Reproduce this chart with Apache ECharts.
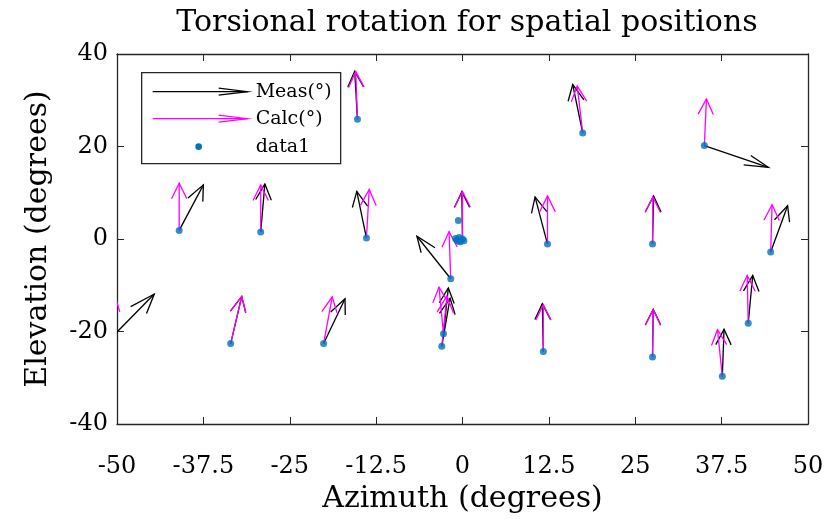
<!DOCTYPE html>
<html>
<head>
<meta charset="utf-8">
<script src="https://cdn.jsdelivr.net/npm/echarts@6/dist/echarts.min.js"></script>
<style>
  html, body { margin: 0; padding: 0; background: #fff; }
  #chart { width: 828px; height: 519px; }
</style>
</head>
<body>
<div id="chart"></div>
<script>
// arrow base positions (azimuth, elevation)
var posX = [-15.2, 17.4, 35.0, -41.0, -29.2, -13.9, -1.7, 0.0, 12.3, 27.5, 44.6,
            -51.5, -33.55, -20.1, -2.75, -3.0, 11.7, 27.5, 37.6, 41.35];
var posY = [25.9, 22.9, 20.2, 1.86, 1.5, 0.2, -8.6, 0.0, -1.1, -1.1, -2.8,
            -22.4, -22.6, -22.6, -20.5, -23.2, -24.3, -25.5, -29.7, -18.2];
// measured torsion vectors
var measU = [-0.4, -1.45, 9.26, 3.5, 0.6, -1.4, -4.9, -0.1, -1.8, 0.15, 2.45,
             6.9, 1.6, 3.1, 0.7, 1.2, -0.15, 0.1, 0.25, 0.65];
var measV = [10.4, 10.5, -4.7, 9.85, 10.4, 10.1, 9.2, 10.2, 10.2, 10.4, 10.0,
             10.5, 10.2, 9.7, 9.9, 10.4, 10.3, 10.3, 10.2, 10.3];
// calculated torsion vectors
var calcU = [-0.25, -0.8, 0.3, 0.0, 0.0, 0.4, -0.25, 0.0, 0.0, 0.05, 0.2,
             1.2, 1.6, 1.25, -0.65, 0.75, 0.0, 0.1, -0.7, -0.15];
var calcV = [10.3, 10.2, 10.1, 10.2, 10.2, 10.5, 10.2, 10.3, 10.4, 10.2, 10.2,
             10.1, 10.2, 10.1, 10.1, 10.9, 10.1, 10.2, 10.1, 10.3];
// extra data1 points around the origin
var extraX = [-0.8, -0.5, -0.3, -1.0, 0.2, -0.6, -0.6];
var extraY = [-0.2, 0.3, -0.6, 0.1, -0.4, -0.5, 4.0];

var xTicks = ['-50', '-37.5', '-25', '-12.5', '0', '12.5', '25', '37.5', '50'];

var serif = '"DejaVu Serif", "Liberation Serif", serif';
var axisColor = '#262626';

function vecData(us, vs) {
  return posX.map(function (x, i) { return [x, posY[i], us[i], vs[i]]; });
}

// MATLAB quiver style arrow
function arrowRender(color) {
  var alpha = 0.33, beta = 0.33;
  return function (params, api) {
    var x = api.value(0), y = api.value(1), u = api.value(2), v = api.value(3);
    var tx = x + u, ty = y + v;
    var b1 = api.coord([tx - alpha * (u + beta * v), ty - alpha * (v - beta * u)]);
    var b2 = api.coord([tx - alpha * (u - beta * v), ty - alpha * (v + beta * u)]);
    var p0 = api.coord([x, y]);
    var p1 = api.coord([tx, ty]);
    var st = { stroke: color, lineWidth: 1.3, fill: null };
    return {
      type: 'group',
      children: [
        { type: 'polyline', shape: { points: [p0, p1] }, style: st },
        { type: 'polyline', shape: { points: [b1, p1, b2] }, style: st }
      ]
    };
  };
}

var dots = posX.map(function (x, i) { return [x, posY[i]]; })
  .concat(extraX.map(function (x, i) { return [x, extraY[i]]; }));

var chart = echarts.init(document.getElementById('chart'));

function frameAxis(pos, min, max, step) {
  return {
    type: 'value', position: pos, min: min, max: max, interval: step,
    axisLine: { show: true, onZero: false, lineStyle: { color: axisColor, width: 1.3 } },
    axisTick: { show: true, inside: true, length: 7, lineStyle: { color: axisColor } },
    axisLabel: { show: false }, splitLine: { show: false }
  };
}

var lgX = 141, lgY = 72;
var option = {
  animation: false,
  backgroundColor: '#fff',
  title: {
    text: 'Torsional rotation for spatial positions',
    left: 462, top: 3, textAlign: 'center',
    textStyle: { fontFamily: serif, fontWeight: 'normal', fontSize: 30, color: '#000' }
  },
  grid: { left: 117, right: 20, top: 54, bottom: 95 },
  xAxis: [{
    type: 'value', min: -50, max: 50, interval: 12.5,
    name: 'Azimuth (degrees)', nameLocation: 'middle', nameGap: 56,
    nameTextStyle: { fontFamily: serif, fontSize: 30, color: '#000' },
    axisLine: { show: true, onZero: false, lineStyle: { color: axisColor, width: 1.3 } },
    axisTick: { show: true, inside: true, length: 7, lineStyle: { color: axisColor } },
    axisLabel: {
      margin: 43, fontFamily: serif, fontSize: 24, color: '#000', verticalAlign: 'middle',
      formatter: function (val) { return xTicks[Math.round((val + 50) / 12.5)]; }
    },
    splitLine: { show: false }
  }, frameAxis('top', -50, 50, 12.5)],
  yAxis: [{
    type: 'value', min: -40, max: 40, interval: 20,
    name: 'Elevation (degrees)', nameLocation: 'middle', nameGap: 64,
    nameTextStyle: { fontFamily: serif, fontSize: 30, color: '#000' },
    axisLine: { show: true, onZero: false, lineStyle: { color: axisColor, width: 1.3 } },
    axisTick: { show: true, inside: true, length: 7, lineStyle: { color: axisColor } },
    axisLabel: { margin: 9, fontFamily: serif, fontSize: 24, color: '#000' },
    splitLine: { show: false }
  }, frameAxis('right', -40, 40, 20)],
  series: [{
    name: 'Meas(°)', type: 'custom', clip: true,
    renderItem: arrowRender('#000000'),
    encode: { x: 0, y: 1 },
    data: vecData(measU, measV)
  }, {
    name: 'Calc(°)', type: 'custom', clip: true,
    renderItem: arrowRender('#ff00ff'),
    encode: { x: 0, y: 1 },
    data: vecData(calcU, calcV)
  }, {
    name: 'data1', type: 'scatter', symbol: 'circle', symbolSize: 7,
    itemStyle: { color: '#0072bd' },
    data: dots
  }],
  graphic: [{
    type: 'group', left: lgX, top: lgY, z: 100,
    children: [
      { type: 'rect', shape: { x: 0, y: 0, width: 199, height: 91 },
        style: { fill: '#fff', stroke: axisColor, lineWidth: 1.3 } },
      { type: 'polyline', shape: { points: [[11, 19], [106, 19]] }, style: { stroke: '#000', lineWidth: 1.2 } },
      { type: 'polyline', shape: { points: [[77, 15.5], [106, 19], [77, 22.5]] }, style: { stroke: '#000', lineWidth: 1.2, fill: null } },
      { type: 'text', x: 114, y: 19, style: { text: 'Meas(°)', font: '19px ' + serif, fill: '#000', verticalAlign: 'middle' } },
      { type: 'polyline', shape: { points: [[11, 46], [106, 46]] }, style: { stroke: '#ff00ff', lineWidth: 1.2 } },
      { type: 'polyline', shape: { points: [[77, 42.5], [106, 46], [77, 49.5]] }, style: { stroke: '#ff00ff', lineWidth: 1.2, fill: null } },
      { type: 'text', x: 114, y: 46, style: { text: 'Calc(°)', font: '19px ' + serif, fill: '#000', verticalAlign: 'middle' } },
      { type: 'circle', shape: { cx: 57, cy: 74, r: 3.3 }, style: { fill: '#0072bd' } },
      { type: 'text', x: 114, y: 74, style: { text: 'data1', font: '19px ' + serif, fill: '#000', verticalAlign: 'middle' } }
    ]
  }]
};
chart.setOption(option);
</script>
</body>
</html>
